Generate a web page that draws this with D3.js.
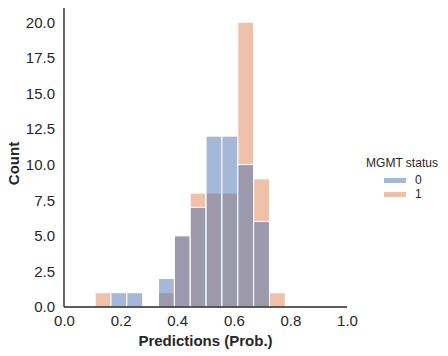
<!DOCTYPE html>
<html>
<head>
<meta charset="utf-8">
<script src="https://cdn.jsdelivr.net/npm/d3@7/dist/d3.min.js"></script>
<style>
  body { margin: 0; background: #fff; }
  text { font-family: "Liberation Sans", Arial, sans-serif; fill: #262626; }
</style>
</head>
<body>
<div id="chart"></div>
<script>
// bin edges of the histogram (12 bins)
const binEdges = [0.110, 0.166, 0.222, 0.278, 0.334, 0.390, 0.446, 0.502, 0.558, 0.614, 0.670, 0.726, 0.782];
// counts per bin for each MGMT status
const counts0 = [0, 1, 1, 0, 2, 5, 7, 12, 12, 10, 6, 0];
const counts1 = [1, 0, 0, 0, 1, 5, 8, 8, 8, 20, 9, 1];
const levels = ["0", "1"];
const colors = { "0": "#4c72b0", "1": "#dd8452" };
const xTicks = [0, 0.2, 0.4, 0.6, 0.8, 1.0];
const yTicks = [0, 2.5, 5, 7.5, 10, 12.5, 15, 17.5, 20];

const W = 448, H = 356;
const margin = { top: 8, right: 101, bottom: 49, left: 64 };

const svg = d3.select("#chart").append("svg")
  .attr("width", W).attr("height", H);

const x = d3.scaleLinear().domain([0, 1]).range([margin.left, W - margin.right]);
const y = d3.scaleLinear().domain([0, 21]).range([H - margin.bottom, margin.top]);

// bars: status 1 drawn first, status 0 on top
const series = [
  { key: "1", values: counts1 },
  { key: "0", values: counts0 }
];

series.forEach(s => {
  svg.append("g")
    .selectAll("rect")
    .data(s.values.map((c, i) => ({ c, x0: binEdges[i], x1: binEdges[i + 1] })).filter(d => d.c > 0))
    .join("rect")
    .attr("x", d => x(d.x0))
    .attr("width", d => x(d.x1) - x(d.x0))
    .attr("y", d => y(d.c))
    .attr("height", d => y(0) - y(d.c))
    .attr("fill", colors[s.key])
    .attr("fill-opacity", 0.5)
    .attr("stroke", "#fff")
    .attr("stroke-width", 1);
});

// axes
const xAxis = svg.append("g")
  .attr("transform", `translate(0,${y(0)})`)
  .call(d3.axisBottom(x).tickValues(xTicks).tickFormat(d3.format(".1f")).tickSize(0).tickPadding(8));
const yAxis = svg.append("g")
  .attr("transform", `translate(${x(0)},0)`)
  .call(d3.axisLeft(y).tickValues(yTicks).tickFormat(d3.format(".1f")).tickSize(0).tickPadding(9));

[xAxis, yAxis].forEach(g => {
  g.select(".domain").attr("stroke", "#262626").attr("stroke-width", 1.4);
  g.selectAll("text").attr("font-size", 15).attr("fill", "#262626")
    .style("font-family", "'Liberation Sans', Arial, sans-serif");
});
yAxis.select(".domain").attr("d", `M0,${y(0)}V${margin.top}`);
xAxis.select(".domain").attr("d", `M${x(0)},0H${x(1)}`);

// axis labels
svg.append("text")
  .attr("x", (x(0) + x(1)) / 2).attr("y", 346)
  .attr("text-anchor", "middle")
  .attr("font-size", 15).attr("font-weight", "bold")
  .text("Predictions (Prob.)");

svg.append("text")
  .attr("transform", `translate(19,${(y(0) + margin.top) / 2 + 6}) rotate(-90)`)
  .attr("text-anchor", "middle")
  .attr("font-size", 15).attr("font-weight", "bold")
  .text("Count");

// legend
const legend = svg.append("g").attr("transform", "translate(366,0)");
legend.append("text")
  .attr("x", 36).attr("y", 167)
  .attr("text-anchor", "middle")
  .attr("font-size", 12)
  .text("MGMT status");

levels.forEach((k, i) => {
  const yy = 178 + i * 14;
  legend.append("rect")
    .attr("x", 18).attr("y", yy)
    .attr("width", 22).attr("height", 5)
    .attr("fill", colors[k]).attr("fill-opacity", 0.5);
  legend.append("text")
    .attr("x", 49).attr("y", yy + 6)
    .attr("font-size", 12)
    .text(k);
});
</script>
</body>
</html>
